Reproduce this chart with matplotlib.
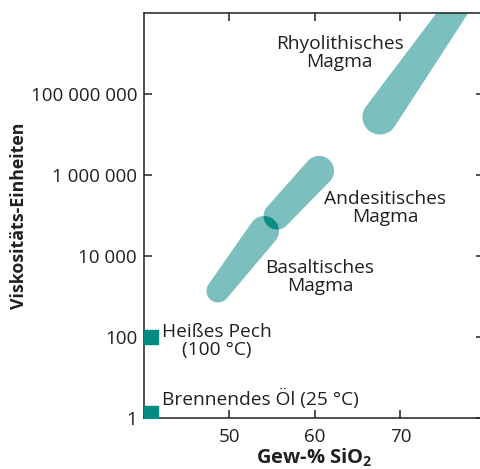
import numpy as np
import matplotlib
matplotlib.use("Agg")
import matplotlib.pyplot as plt
from matplotlib.patches import Polygon

plt.rcParams['font.family'] = ['Open Sans', 'DejaVu Sans']

# ---- data ----
magma_names = ["Basaltisches\nMagma", "Andesitisches\nMagma", "Rhyolithisches\nMagma"]
sio2_lo = [48.65, 55.56, 67.6]
sio2_hi = [54.04, 60.47, 78.0]
visc_lo = [1.37e3, 9.7e4, 2.7e7]
visc_hi = [4.14e4, 1.26e6, 3.7e10]

ref_names = ["Heißes Pech\n(100 °C)", "Brennendes Öl (25 °C)"]
ref_visc = [100, 1.35]

yticks = [1, 100, 1e4, 1e6, 1e8]
ytick_labels = ["1", "100", "10 000", "1 000 000", "100 000 000"]
xticks = [50, 60, 70]
xtick_labels = ["50", "60", "70"]

# ---- style ----
blob_color = "#7bbfbf"
overlap_color = "#0d8c86"
square_color = "#008c82"
text_color = "#231f20"
radii = [(11.5, 15), (13.5, 15), (17.5, 12)]  # pixels

fig = plt.figure(figsize=(4.8, 4.69), dpi=100)
ax = fig.add_axes([144/480, 51/469, 340/480, 405/469])
ax.set_yscale('log')
ax.set_xlim(40, 79.77)
ax.set_ylim(1, 1e10)

for s in ['left', 'bottom', 'top']:
    ax.spines[s].set_linewidth(1.1)
    ax.spines[s].set_color(text_color)
ax.spines['right'].set_linewidth(1.1)

ax.yaxis.set_major_locator(matplotlib.ticker.FixedLocator(yticks))
ax.yaxis.set_minor_locator(matplotlib.ticker.NullLocator())
ax.set_yticks(yticks, ytick_labels)
ax.set_xticks(xticks, xtick_labels)
ax.tick_params(axis='both', direction='in', length=5.5, width=1.1, color=text_color,
               labelsize=13.5, labelcolor=text_color, top=True, right=True)
ax.tick_params(axis='y', pad=5)
ax.tick_params(axis='x', pad=7)

def capsule(ax, x1, y1, x2, y2, r1, r2, n=60):
    p1 = ax.transData.transform((x1, y1))
    p2 = ax.transData.transform((x2, y2))
    d = p2 - p1
    L = np.hypot(*d)
    phi = np.arctan2(d[1], d[0])
    beta = np.arcsin((r1 - r2) / L)
    a2 = np.linspace(phi - np.pi/2 + beta, phi + np.pi/2 - beta, n)
    a1 = np.linspace(phi + np.pi/2 - beta, phi + 3*np.pi/2 + beta, n)
    pts = np.vstack([
        np.column_stack([p2[0] + r2*np.cos(a2), p2[1] + r2*np.sin(a2)]),
        np.column_stack([p1[0] + r1*np.cos(a1), p1[1] + r1*np.sin(a1)]),
    ])
    return ax.transData.inverted().transform(pts)

patches = []
for i in range(3):
    verts = capsule(ax, sio2_lo[i], visc_lo[i], sio2_hi[i], visc_hi[i], *radii[i])
    p = Polygon(verts, closed=True, facecolor=blob_color, edgecolor='none', zorder=2)
    ax.add_patch(p)
    patches.append((p, verts))

# overlap of basalt and andesite
ov = Polygon(patches[1][1], closed=True, facecolor=overlap_color, edgecolor='none', zorder=3)
ax.add_patch(ov)
ov.set_clip_path(patches[0][0])

# reference squares
ax.plot([0.0193]*2, ref_visc, 's', color=square_color, markersize=9.4,
        transform=ax.get_yaxis_transform(), zorder=4)

fs = 13.8
ax.text(62.9, 10**9.01, magma_names[2], ha='center', va='center', fontsize=fs,
        color=text_color, linespacing=1.05)
ax.text(68.2, 10**5.185, magma_names[1], ha='center', va='center', fontsize=fs,
        color=text_color, linespacing=1.05)
ax.text(60.6, 10**3.48, magma_names[0], ha='center', va='center', fontsize=fs,
        color=text_color, linespacing=1.05)
ax.text(48.55, 10**1.90, ref_names[0], ha='center', va='center', fontsize=fs,
        color=text_color, linespacing=1.05)
ax.text(42.1, 10**0.469, ref_names[1], ha='left', va='center', fontsize=fs,
        color=text_color)

ax.set_ylabel("Viskositäts-Einheiten", fontsize=12.8, fontweight='bold', color=text_color)
ax.yaxis.set_label_coords(-0.34, 0.5)
ax.set_xlabel("Gew-% SiO$_\\mathregular{2}$", fontsize=14.5, fontweight='bold', color=text_color)
ax.xaxis.set_label_coords(0.5, -0.07)

fig.savefig("out.png", dpi=100)
